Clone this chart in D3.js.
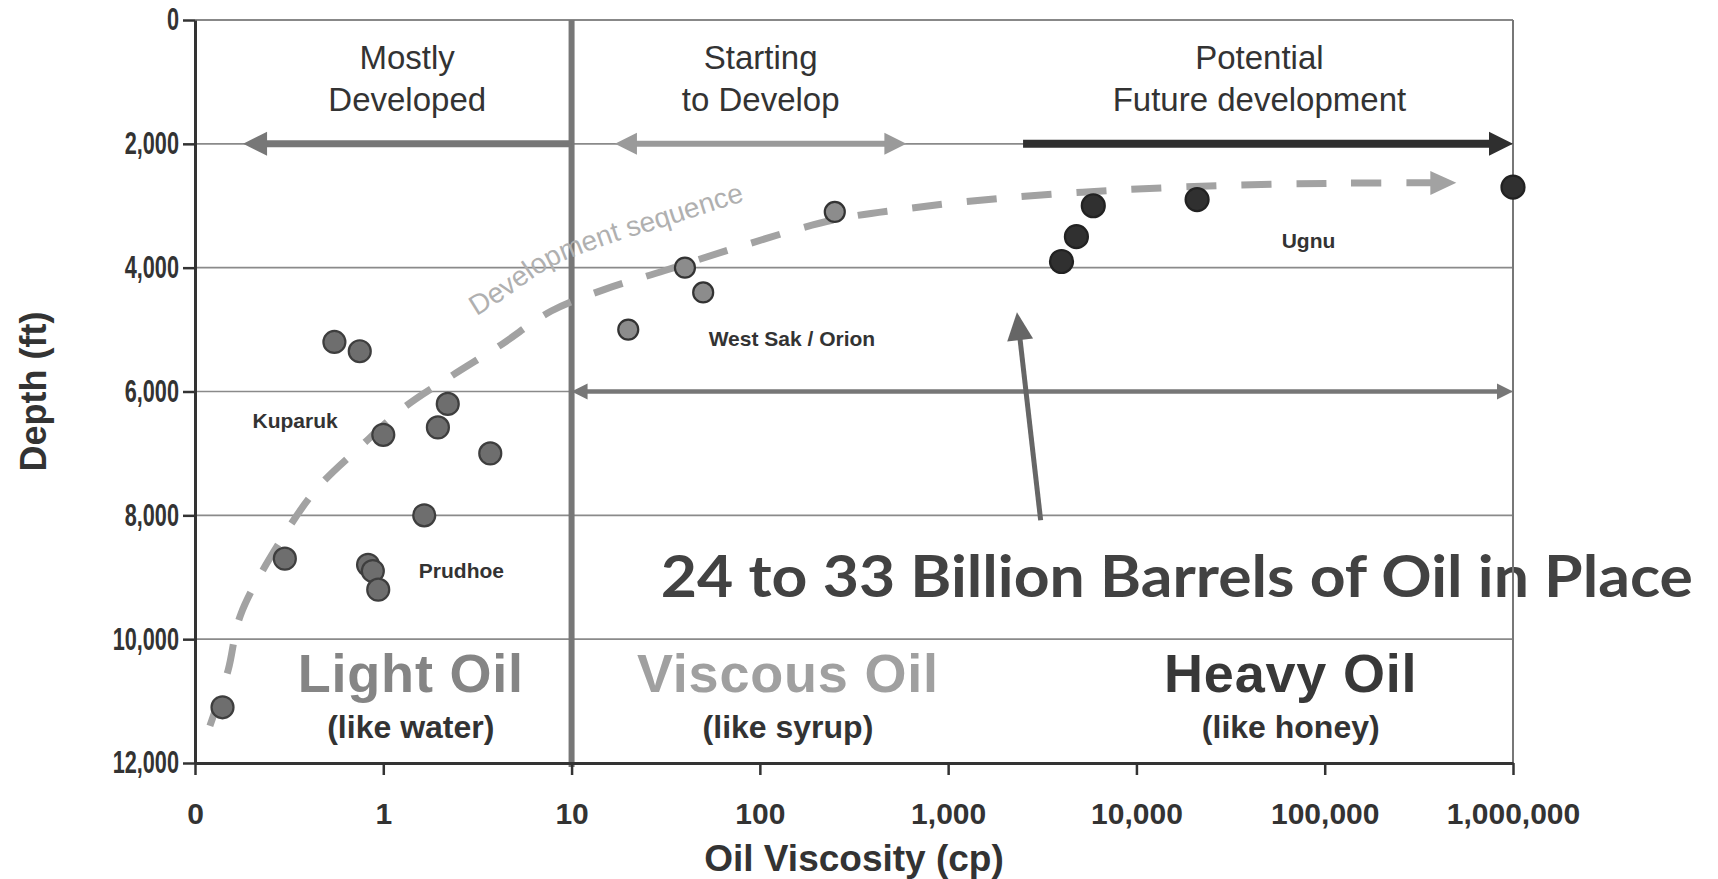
<!DOCTYPE html>
<html lang="en">
<head>
<meta charset="utf-8"/>
<script src="https://cdn.jsdelivr.net/npm/d3@7"></script>
<style>
  body { margin: 0; background: #fff; }
  svg { display: block; font-family: "Liberation Sans", Arial, sans-serif; }
  .axis .tick text { font-family: "Liberation Sans", Arial, sans-serif; font-size: 30px; font-weight: bold; fill: #333; }
  .axis .tick line { stroke: #333; stroke-width: 2.5px; }
  .axis .domain { stroke: #333; stroke-width: 3px; }
</style>
</head>
<body>
<div id="chart"></div>
<script>
// ---- values ----
const xTickValues = [0.1, 1, 10, 100, 1000, 10000, 100000, 1000000];
const xTickLabels = ["0", "1", "10", "100", "1,000", "10,000", "100,000", "1,000,000"];
const yTickValues = [0, 2000, 4000, 6000, 8000, 10000, 12000];

// reservoirs (viscosity cp, depth ft)
const lightVisc  = [0.55, 0.75, 2.2, 1.95, 1.0, 3.7, 1.65, 0.30, 0.83, 0.88, 0.94, 0.14];
const lightDepth = [5200, 5350, 6200, 6580, 6700, 7000, 8000, 8700, 8800, 8900, 9200, 11100];
const viscousVisc  = [20, 40, 50, 250];
const viscousDepth = [5000, 4000, 4400, 3100];
const heavyVisc  = [4000, 4800, 5900, 21000, 1000000];
const heavyDepth = [3900, 3500, 3000, 2900, 2700];

// development sequence trend
const devVisc  = [0.12, 0.15, 0.175, 0.3, 0.45, 0.75, 1.3, 2.3, 4.2, 7.8, 15, 31, 80, 245, 630, 1900, 7600, 32000, 130000, 500000];
const devDepth = [11400, 10500, 9600, 8300, 7550, 6900, 6250, 5750, 5250, 4700, 4350, 4050, 3650, 3230, 3040, 2880, 2750, 2670, 2635, 2630];
const devLabel = "Development sequence";
const devLabelVisc = 3.1;

// range arrows
const arrowFrom  = [10, 17, 2500, 10];
const arrowTo    = [0.18, 600, 1000000, 1000000];
const arrowDepth = [2000, 2000, 2000, 6000];
const arrowBoth  = [false, true, false, true];

// callout arrow to the resource text
const calloutVisc  = [3100, 2320];
const calloutDepth = [8080, 4720];

// text annotations
const phaseLines = [["Mostly", "Developed"], ["Starting", "to Develop"], ["Potential", "Future development"]];
const phaseVisc  = [1.34, 101, 45000];
const phaseDepth = [790, 1470];

const oilNames = ["Light Oil", "Viscous Oil", "Heavy Oil"];
const oilLikes = ["(like water)", "(like syrup)", "(like honey)"];
const oilVisc  = [1.4, 141, 66000];
const oilDepth = [10850, 11600];

const fieldNames = ["Kuparuk", "Prudhoe", "West Sak / Orion", "Ugnu"];
const fieldVisc  = [0.34, 2.6, 148, 82000];
const fieldDepth = [6590, 9015, 5267, 3683];

const resourceText  = "24 to 33 Billion Barrels of Oil in Place";
const resourceVisc  = 16400;
const resourceDepth = 9320;

// ---- layout ----
const width = 1718, height = 879;
const margin = {top: 20, right: 205, bottom: 116, left: 195};

const svg = d3.select("#chart").append("svg")
  .attr("width", width)
  .attr("height", height);

const x = d3.scaleLog()
  .domain([0.1, 1000000])
  .range([margin.left, width - margin.right]);
const y = d3.scaleLinear()
  .domain([0, 12000])
  .range([margin.top, height - margin.bottom]);

const x0 = x.range()[0], x1 = x.range()[1];
const y0 = y.range()[0], y1 = y.range()[1];

// gridlines
svg.append("g")
  .selectAll("line")
  .data(yTickValues.slice(1, -1))
  .enter().append("line")
  .attr("x1", x0).attr("x2", x1)
  .attr("y1", d => y(d)).attr("y2", d => y(d))
  .attr("stroke", "#8a8a8a")
  .attr("stroke-width", 1.6);

// big resource text sits under the frame lines
svg.append("text")
  .attr("x", x(resourceVisc))
  .attr("y", y(resourceDepth))
  .attr("text-anchor", "middle")
  .attr("font-family", "Lato, 'Open Sans', sans-serif")
  .attr("font-weight", "bold")
  .attr("font-size", 58)
  .attr("fill", "#424242")
  .attr("textLength", 1032)
  .attr("lengthAdjust", "spacingAndGlyphs")
  .text(resourceText);

// frame: top and right borders
svg.append("line")
  .attr("x1", x0).attr("x2", x1).attr("y1", y0).attr("y2", y0)
  .attr("stroke", "#888").attr("stroke-width", 2);
svg.append("line")
  .attr("x1", x1).attr("x2", x1).attr("y1", y0).attr("y2", y1)
  .attr("stroke", "#777").attr("stroke-width", 2);

// thick divider at 10 cp
svg.append("line")
  .attr("x1", x(10)).attr("x2", x(10))
  .attr("y1", y0).attr("y2", y1 + 4)
  .attr("stroke", "#777").attr("stroke-width", 6);

// arrow helper: line with triangular heads, line shortened so the butt stays inside
function drawArrow(g, ax, ay, bx, by, o) {
  const ang = Math.atan2(by - ay, bx - ax);
  const cos = Math.cos(ang), sin = Math.sin(ang);
  const sx = o.both ? ax + cos * (o.head - 2) : ax;
  const sy = o.both ? ay + sin * (o.head - 2) : ay;
  g.append("line")
    .attr("x1", sx).attr("y1", sy)
    .attr("x2", bx - cos * (o.head - 2)).attr("y2", by - sin * (o.head - 2))
    .attr("stroke", o.color)
    .attr("stroke-width", o.width);
  const head = (tx, ty, c, s) => {
    const bx0 = tx - c * o.head, by0 = ty - s * o.head;
    const hw = o.headW / 2;
    return `M${tx},${ty}L${bx0 - s * hw},${by0 + c * hw}L${bx0 + s * hw},${by0 - c * hw}Z`;
  };
  g.append("path").attr("d", head(bx, by, cos, sin)).attr("fill", o.color);
  if (o.both) g.append("path").attr("d", head(ax, ay, -cos, -sin)).attr("fill", o.color);
}

const arrowStyles = [
  {color: "#777", width: 7, head: 24, headW: 24},
  {color: "#9a9a9a", width: 6, head: 22, headW: 22},
  {color: "#2f2f2f", width: 8, head: 24, headW: 24},
  {color: "#777", width: 4.5, head: 16, headW: 16}
];
const arrows = svg.append("g");
arrowFrom.forEach((f, i) => {
  drawArrow(arrows, x(f), y(arrowDepth[i]), x(arrowTo[i]), y(arrowDepth[i]),
    Object.assign({both: arrowBoth[i]}, arrowStyles[i]));
});

drawArrow(arrows,
  x(calloutVisc[0]), y(calloutDepth[0]), x(calloutVisc[1]), y(calloutDepth[1]),
  {color: "#666", width: 5, head: 28, headW: 26, both: false});

// development sequence curve
const devData = devVisc.map((v, i) => [v, devDepth[i]]);
const devLine = d3.line()
  .x(d => x(d[0]))
  .y(d => y(d[1]))
  .curve(d3.curveCatmullRom.alpha(0.5));

svg.append("path")
  .attr("d", devLine(devData))
  .attr("fill", "none")
  .attr("stroke", "#a2a2a2")
  .attr("stroke-width", 7)
  .attr("stroke-dasharray", "30,25");

// arrowhead at the end of the trend
const last = devData[devData.length - 1], prev = devData[devData.length - 2];
const tipX = x(last[0]), tipY = y(last[1]);
const dAng = Math.atan2(tipY - y(prev[1]), tipX - x(prev[0]));
const hl = 26, hw = 12;
const bX = tipX - Math.cos(dAng) * hl, bY = tipY - Math.sin(dAng) * hl;
svg.append("path")
  .attr("d", `M${tipX},${tipY}L${bX - Math.sin(dAng) * hw},${bY + Math.cos(dAng) * hw}L${bX + Math.sin(dAng) * hw},${bY - Math.cos(dAng) * hw}Z`)
  .attr("fill", "#a2a2a2");

// label riding above the trend
const devOffset = d3.line()
  .x(d => x(d[0]))
  .y(d => y(d[1]) - 44)
  .curve(d3.curveCatmullRom.alpha(0.5));
const offPath = svg.append("defs").append("path")
  .attr("id", "dev-offset")
  .attr("d", devOffset(devData));
const node = offPath.node();
let startLen = 0;
const targetX = x(devLabelVisc);
for (let s = 0; s < node.getTotalLength(); s += 1) {
  if (node.getPointAtLength(s).x >= targetX) { startLen = s; break; }
}
svg.append("text")
  .attr("font-size", 28)
  .attr("fill", "#b0b0b0")
  .append("textPath")
  .attr("href", "#dev-offset")
  .attr("startOffset", startLen)
  .text(devLabel);

// reservoirs
function drawPoints(vs, ds, r, fill, stroke) {
  svg.append("g")
    .selectAll("circle")
    .data(vs.map((v, i) => [v, ds[i]]))
    .enter().append("circle")
    .attr("cx", d => x(d[0]))
    .attr("cy", d => y(d[1]))
    .attr("r", r)
    .attr("fill", fill)
    .attr("stroke", stroke)
    .attr("stroke-width", 2.2);
}
drawPoints(lightVisc, lightDepth, 11, "#6e6e6e", "#3e3e3e");
drawPoints(viscousVisc, viscousDepth, 10, "#8c8c8c", "#333");
drawPoints(heavyVisc, heavyDepth, 11.5, "#303030", "#222");

// field names
svg.append("g")
  .selectAll("text")
  .data(fieldNames)
  .enter().append("text")
  .attr("x", (d, i) => x(fieldVisc[i]))
  .attr("y", (d, i) => y(fieldDepth[i]))
  .attr("text-anchor", "middle")
  .attr("font-size", 21)
  .attr("font-weight", "bold")
  .attr("fill", "#333")
  .text(d => d);

// development phase headings
const phases = svg.append("g")
  .attr("font-size", 33)
  .attr("fill", "#333")
  .attr("text-anchor", "middle");
phaseLines.forEach((lines, i) => {
  lines.forEach((t, j) => {
    phases.append("text")
      .attr("x", x(phaseVisc[i]))
      .attr("y", y(phaseDepth[j]))
      .text(t);
  });
});

// oil type labels
const oilColors = ["#858585", "#a0a0a0", "#383838"];
const oils = svg.append("g").attr("text-anchor", "middle").attr("font-weight", "bold");
oilNames.forEach((t, i) => {
  oils.append("text")
    .attr("x", x(oilVisc[i]))
    .attr("y", y(oilDepth[0]))
    .attr("font-size", 54)
    .attr("letter-spacing", 0.8)
    .attr("fill", oilColors[i])
    .text(t);
  oils.append("text")
    .attr("x", x(oilVisc[i]))
    .attr("y", y(oilDepth[1]))
    .attr("font-size", 32)
    .attr("fill", "#333")
    .text(oilLikes[i]);
});

// axes
svg.append("g")
  .attr("class", "axis")
  .attr("transform", `translate(0,${y1})`)
  .call(d3.axisBottom(x)
    .tickValues(xTickValues)
    .tickFormat((d, i) => xTickLabels[i])
    .tickSize(12)
    .tickSizeOuter(0)
    .tickPadding(28));

// depth labels are condensed in the original
svg.append("g")
  .attr("class", "axis")
  .attr("transform", `translate(${x0},0)`)
  .call(d3.axisLeft(y)
    .tickValues(yTickValues)
    .tickFormat(d3.format(","))
    .tickSize(12)
    .tickSizeOuter(0))
  .selectAll(".tick text")
  .attr("x", 0)
  .attr("transform", "translate(-16,0) scale(0.7,1)")
  .style("font-size", "31px");

// axis titles
svg.append("text")
  .attr("x", (x0 + x1) / 2)
  .attr("y", 871)
  .attr("text-anchor", "middle")
  .attr("font-size", 37)
  .attr("font-weight", "bold")
  .attr("fill", "#333")
  .text("Oil Viscosity (cp)");

svg.append("text")
  .attr("transform", `translate(46,${(y0 + y1) / 2}) rotate(-90)`)
  .attr("text-anchor", "middle")
  .attr("font-size", 36)
  .attr("font-weight", "bold")
  .attr("fill", "#333")
  .text("Depth (ft)");
</script>
</body>
</html>
